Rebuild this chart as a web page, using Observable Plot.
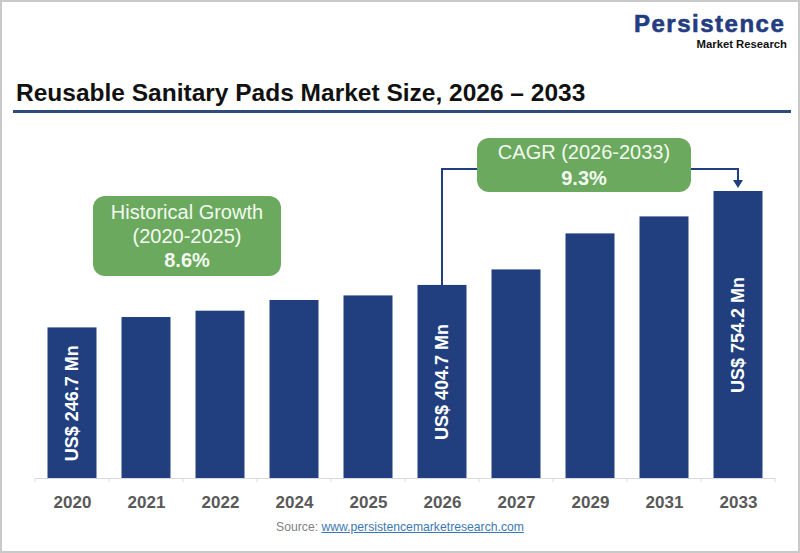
<!DOCTYPE html>
<html><head><meta charset="utf-8">
<script src="https://cdn.jsdelivr.net/npm/d3@7"></script>
<script src="https://cdn.jsdelivr.net/npm/@observablehq/plot@0.6"></script>
<style>
body{margin:0;background:#fff;font-family:"Liberation Sans",Arial,sans-serif;}
#frame{position:relative;width:800px;height:553px;overflow:hidden;background:#fff}
#frame > div{position:absolute;white-space:nowrap}
#logo1{left:634px;top:13.7px;font-size:24px;line-height:20px;height:20px;font-weight:bold;color:#243c80;letter-spacing:1.5px;-webkit-text-stroke:0.6px #243c80}
#logo2{right:13px;top:38.9px;font-size:11.3px;line-height:10px;height:10px;font-weight:bold;color:#111}
#title{left:16px;top:81.3px;font-size:24.5px;line-height:24.5px;font-weight:bold;color:#111}
#rule{left:13px;top:109.5px;width:778px;height:3px;background:#2f4b78}
#chart{left:0;top:115px}
#source{left:0;width:800px;text-align:center;top:520.7px;font-size:12.2px;line-height:12.2px;color:#7f7f7f}
#source span{color:#3c78b5;text-decoration:underline}
#border{left:0;top:0;width:800px;height:553px;box-sizing:border-box;border:2px solid #c9c9c9;pointer-events:none}
#chart svg g[aria-label="x-axis tick label"] text{font-weight:bold}
</style></head><body>
<div id="frame">
 <div id="logo1">Persistence</div>
 <div id="logo2">Market Research</div>
 <div id="title">Reusable Sanitary Pads Market Size, 2026 – 2033</div>
 <div id="rule"></div>
 <div id="chart"></div>
 <div id="source">Source: <span>www.persistencemarketresearch.com</span></div>
 <div id="border"></div>
</div>
<script>
// ---- data ----
const years = ["2020","2021","2022","2024","2025","2026","2027","2029","2031","2033"];
const values = [246.7, 285.3, 308.8, 348.6, 365.7, 404.7, 462.4, 596.4, 659.6, 754.2];
const labelYears = ["2020","2026","2033"];
const historicalText = ["Historical Growth", "(2020-2025)", "8.6%"];
const cagrText = ["CAGR (2026-2033)", "9.3%"];
const cagrFrom = "2026", cagrTo = "2033";

// ---- layout / style ----
const BAR = "#213f7f";
const GREEN = "#6aa95e";
const BOXTEXT = "#f3f9f0";
const FONT = '"Liberation Sans", Arial, sans-serif';
const Y_MIN = -313.6, Y_MAX = 962.5;
const TOP = 115;

const data = years.map((year, i) => ({year, value: values[i]}));
const labels = data.filter(d => labelYears.includes(d.year));

const chart = Plot.plot({
  width: 800, height: 400,
  marginLeft: 35, marginRight: 25, marginTop: 20, marginBottom: 37,
  style: {fontFamily: FONT, background: "transparent", overflow: "visible"},
  x: {domain: years, paddingInner: 0.338, paddingOuter: 0.169, round: false, axis: null, label: null},
  y: {domain: [Y_MIN, Y_MAX], axis: null},
  marks: [
    Plot.barY(data, {x: "year", y1: () => Y_MIN, y2: "value", fill: BAR}),
    Plot.ruleY([Y_MIN], {stroke: "#d9d9d9", strokeWidth: 1}),
    Plot.axisX({tickSize: 0, tickPadding: 17, fontSize: 17, fontWeight: "bold", color: "#595959", label: null}),
    Plot.text(labels, {x: "year", y: d => (Y_MIN + d.value) / 2,
      text: d => `US$ ${d.value.toFixed(1)} Mn`, rotate: -90,
      fill: "white", fontSize: 18, fontWeight: "bold"})
  ]
});
document.getElementById("chart").appendChild(chart);

// ---- annotations using the chart's scales ----
const xs = chart.scale("x"), ys = chart.scale("y");
const bw = xs.bandwidth;
const step = xs.apply(years[1]) - xs.apply(years[0]);
const gap = step - bw;
const svg = d3.select(chart);
const base = ys.apply(Y_MIN);
const g = svg.append("g");
const bounds = years.map(y => xs.apply(y) - gap / 2);
bounds.push(xs.apply(years[years.length - 1]) + bw + gap / 2);
bounds.forEach(x => g.append("line").attr("x1", x).attr("x2", x)
  .attr("y1", base).attr("y2", base + 4).attr("stroke", "#d9d9d9"));

function box(x, y, w, h, lines, boldLast, lineGap) {
  const bg = svg.append("g");
  bg.append("rect").attr("x", x).attr("y", y).attr("width", w).attr("height", h)
    .attr("rx", 12).attr("fill", GREEN);
  const cy0 = y + h / 2 - (lines.length - 1) * lineGap / 2;
  lines.forEach((t, i) => bg.append("text").attr("x", x + w / 2).attr("y", cy0 + i * lineGap)
    .attr("dy", "0.36em").attr("text-anchor", "middle").attr("fill", BOXTEXT)
    .attr("font-family", FONT).attr("font-size", 20)
    .attr("font-weight", boldLast && i === lines.length - 1 ? "bold" : "normal").text(t));
}

// connector CAGR
const vFrom = values[years.indexOf(cagrFrom)], vTo = values[years.indexOf(cagrTo)];
const x1 = xs.apply(cagrFrom) + bw / 2, x2 = xs.apply(cagrTo) + bw / 2;
const ly = 169 - TOP;
const tip = ys.apply(vTo) - 3;
g.append("path").attr("d", `M${x1},${ys.apply(vFrom)}V${ly}H${x2}V${tip - 7}`)
  .attr("fill", "none").attr("stroke", BAR).attr("stroke-width", 2);
g.append("path").attr("d", `M${x2 - 5},${tip - 8}L${x2 + 5},${tip - 8}L${x2},${tip}Z`).attr("fill", BAR);

box(93, 196 - TOP, 188, 80, historicalText, true, 24);
box(477, 138 - TOP, 214, 54, cagrText, true, 26);
</script>
</body></html>
